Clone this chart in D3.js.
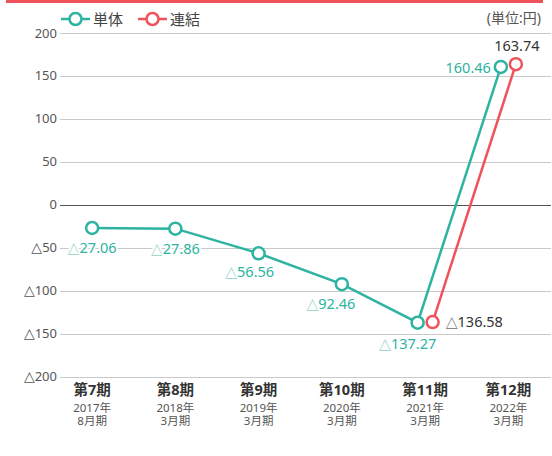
<!DOCTYPE html>
<meta charset="utf-8">
<style>
  body { margin: 0; background: #fff; }
  svg { font-family: "Noto Sans", "Noto Sans CJK JP", sans-serif; }
  .grid line { stroke: #c9c9c9; stroke-width: 1px; }
  .tick-label { fill: #555; font-size: 13px; }
  .tri { font-family: "DejaVu Sans", sans-serif; }
  .line { fill: none; stroke-width: 2.5px; }
  .dot { fill: #fff; stroke-width: 2.5px; }
  .val { font-size: 14.5px; paint-order: stroke; stroke: #fff; stroke-width: 4px; stroke-linejoin: round; }
</style>

<body>
  <script src="https://d3js.org/d3.v7.min.js"></script>
  <script>
    // data (円)
    var periods = ["第7期", "第8期", "第9期", "第10期", "第11期", "第12期"];
    var years = ["2017年", "2018年", "2019年", "2020年", "2021年", "2022年"];
    var months = ["8月期", "3月期", "3月期", "3月期", "3月期", "3月期"];
    var tantai = [-27.06, -27.86, -56.56, -92.46, -137.27, 160.46];
    var renketsu = [null, null, null, null, -136.58, 163.74];
    var yTicks = [200, 150, 100, 50, 0, -50, -100, -150, -200];

    var teal = "#2db3a0",
      red = "#f0525b";

    var width = 552,
      height = 456;

    var svg = d3.select("body").append("svg")
      .attr("width", width)
      .attr("height", height);

    // red band at the very top
    svg.append("rect")
      .attr("x", 6).attr("y", 0)
      .attr("width", 537).attr("height", 3)
      .attr("fill", red);

    var x = d3.scaleBand().domain(periods).range([50.5, 550]).padding(0);
    var y = d3.scaleLinear().domain([-200, 200]).range([376.5, 33]);

    // two series share a category -> shift them apart
    function px(i, s) {
      var cx = x(periods[i]) + x.bandwidth() / 2;
      if (renketsu[i] == null) return cx;
      return cx + (s === 0 ? -7.5 : 7.5);
    }

    // gridlines + y labels
    var grid = svg.append("g").attr("class", "grid");
    grid.selectAll("line")
      .data(yTicks)
      .enter().append("line")
      .attr("x1", 60).attr("x2", 551)
      .attr("y1", function(d) { return Math.round(y(d)) + 0.5; })
      .attr("y2", function(d) { return Math.round(y(d)) + 0.5; })
      .style("stroke", function(d) { return d === 0 ? "#555" : null; });

    var tl = svg.append("g").selectAll("text")
      .data(yTicks)
      .enter().append("text")
      .attr("class", "tick-label")
      .attr("x", 57)
      .attr("y", function(d) { return y(d) + 4.5; })
      .attr("text-anchor", "end");
    tl.filter(function(d) { return d < 0; })
      .append("tspan").attr("class", "tri").attr("font-size", "14px").text("△");
    tl.append("tspan").text(function(d) { return Math.abs(d); });

    // x category labels
    var cat = svg.append("g").selectAll("g")
      .data(periods)
      .enter().append("g")
      .attr("transform", function(d) {
        return "translate(" + (x(d) + x.bandwidth() / 2) + ",0)";
      });
    cat.append("text")
      .attr("y", 395)
      .attr("text-anchor", "middle")
      .attr("font-size", "14.5px")
      .attr("font-weight", "bold")
      .attr("fill", "#333")
      .text(function(d) { return d; });
    cat.append("text")
      .attr("y", 411.5)
      .attr("text-anchor", "middle")
      .attr("font-size", "11.5px")
      .attr("fill", "#555")
      .text(function(d, i) { return years[i]; });
    cat.append("text")
      .attr("y", 425)
      .attr("text-anchor", "middle")
      .attr("font-size", "11.5px")
      .attr("fill", "#555")
      .text(function(d, i) { return months[i]; });

    // lines
    var series = [{ vals: tantai, color: teal }, { vals: renketsu, color: red }];

    series.forEach(function(s, si) {
      var pts = s.vals.map(function(v, i) { return { i: i, v: v }; })
        .filter(function(d) { return d.v != null; });

      var line = d3.line()
        .x(function(d) { return px(d.i, si); })
        .y(function(d) { return y(d.v); });

      svg.append("path")
        .datum(pts)
        .attr("class", "line")
        .attr("stroke", s.color)
        .attr("d", line);

      s.pts = pts;
    });

    series.forEach(function(s, si) {
      svg.append("g").selectAll("circle")
        .data(s.pts)
        .enter().append("circle")
        .attr("class", "dot")
        .attr("stroke", s.color)
        .attr("r", 6)
        .attr("cx", function(d) { return px(d.i, si); })
        .attr("cy", function(d) { return y(d.v); });
    });

    // value labels: where each one sits relative to its marker
    var tealPlace = [
      { dx: 0, dy: 25, anchor: "middle" },
      { dx: 0, dy: 25, anchor: "middle" },
      { dx: -9, dy: 24, anchor: "middle" },
      { dx: -11, dy: 25, anchor: "middle" },
      { dx: -10, dy: 26, anchor: "middle" },
      { dx: -10, dy: 6, anchor: "end" }
    ];
    var redPlace = [null, null, null, null,
      { dx: 13, dy: 5, anchor: "start" },
      { dx: 1, dy: -13, anchor: "middle" }
    ];

    function addLabels(pts, si, place, color, triColor) {
      var t = svg.append("g").selectAll("text")
        .data(pts)
        .enter().append("text")
        .attr("class", "val")
        .attr("fill", color)
        .attr("text-anchor", function(d) { return place[d.i].anchor; })
        .attr("x", function(d) { return px(d.i, si) + place[d.i].dx; })
        .attr("y", function(d) { return y(d.v) + place[d.i].dy; });
      t.filter(function(d) { return d.v < 0; })
        .append("tspan")
        .attr("class", "tri")
        .attr("font-size", "15.5px")
        .attr("fill", triColor)
        .text("△");
      t.append("tspan")
        .text(function(d) { return Math.abs(d.v).toFixed(2); });
    }

    addLabels(series[0].pts, 0, tealPlace, teal, "#9fd9d0");
    addLabels(series[1].pts, 1, redPlace, "#333", "#888");

    // legend
    var legend = [{ name: "単体", color: teal, x: 61 }, { name: "連結", color: red, x: 138 }];
    var lg = svg.append("g").selectAll("g")
      .data(legend)
      .enter().append("g")
      .attr("transform", function(d) { return "translate(" + d.x + ",19)"; });
    lg.append("line")
      .attr("x1", 0).attr("x2", 29)
      .attr("stroke", function(d) { return d.color; })
      .attr("stroke-width", 2.5);
    lg.append("circle")
      .attr("class", "dot")
      .attr("cx", 14.5).attr("r", 6)
      .attr("stroke", function(d) { return d.color; });
    lg.append("text")
      .attr("x", 32).attr("y", 6)
      .attr("font-size", "15px")
      .attr("fill", "#444")
      .text(function(d) { return d.name; });

    svg.append("text")
      .attr("x", 541).attr("y", 23)
      .attr("text-anchor", "end")
      .attr("font-size", "14px")
      .attr("fill", "#555")
      .text("(単位:円)");
  </script>
</body>
